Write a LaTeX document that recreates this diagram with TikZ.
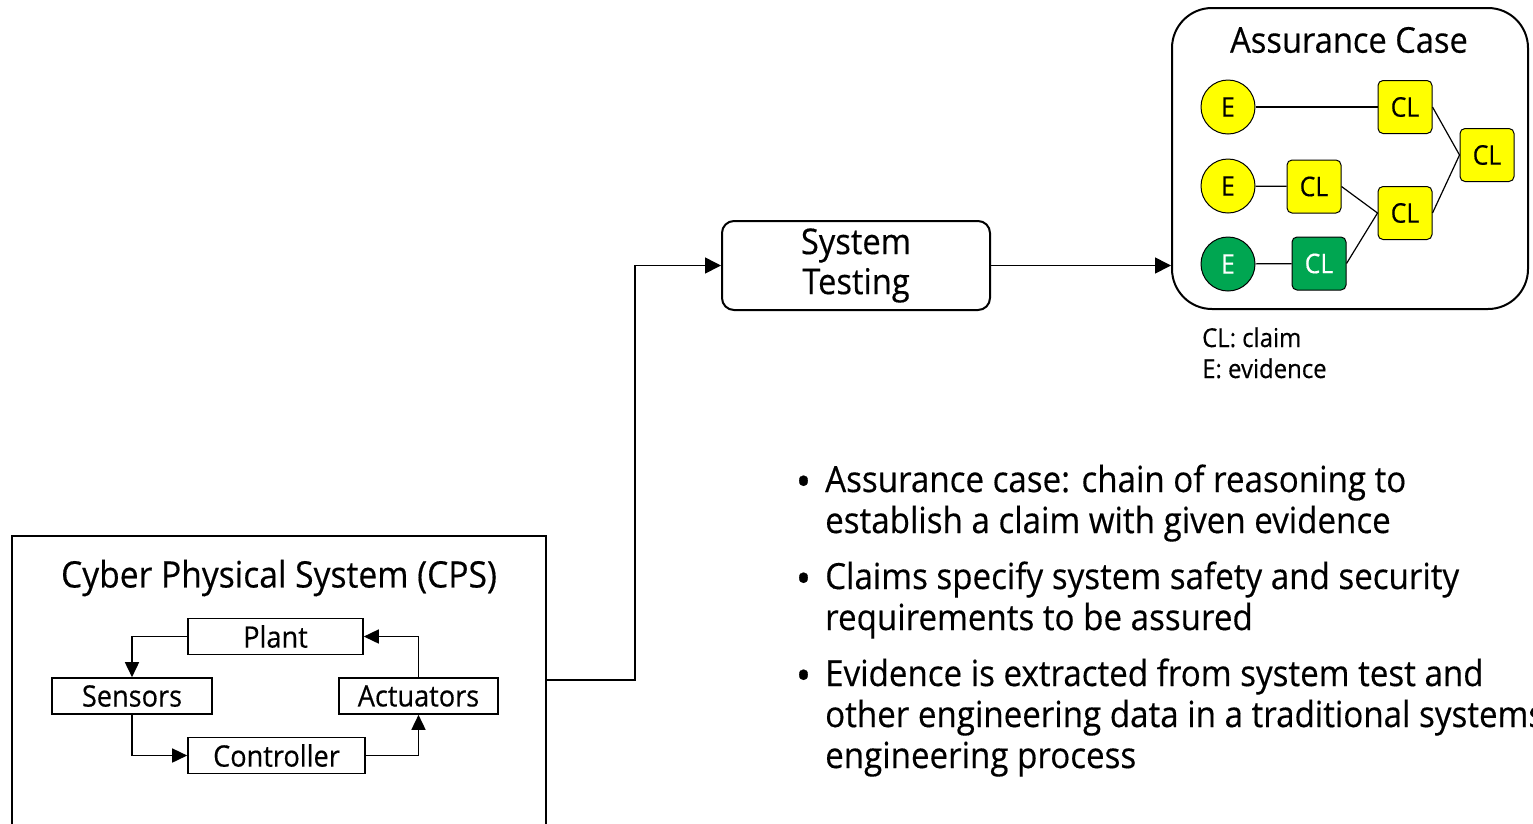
\documentclass[tikz,border=0pt]{standalone}
\usepackage{fontspec}
\setmainfont{Open Sans}[FakeStretch=0.92,FakeBold=0.4]
\usetikzlibrary{arrows.meta}
\definecolor{evgreen}{RGB}{0,166,81}
\definecolor{clyellow}{RGB}{255,255,0}

\begin{document}
\begin{tikzpicture}[x=1pt,y=-1pt,
  tip/.style={-{Triangle[length=15pt,width=14pt]}},
  bigtip/.style={-{Triangle[length=16pt,width=16pt]}},
  conn/.style={line width=1.6pt},
  cpsbox/.style={draw,line width=1.6pt,inner sep=0pt,minimum height=36pt,
    font=\fontsize{29.5}{34}\selectfont},
  evid/.style={draw,circle,line width=1pt,minimum size=54pt,inner sep=0pt,
    fill=clyellow,font=\fontsize{27}{30}\selectfont},
  claim/.style={draw,rectangle,rounded corners=5pt,line width=1pt,
    minimum width=54pt,minimum height=53pt,inner sep=0pt,
    fill=clyellow,font=\fontsize{27}{30}\selectfont},
  done/.style={fill=evgreen,text=white},
  link/.style={line width=1.2pt},
  bullet/.style={anchor=base west,inner sep=0pt,font=\fontsize{36}{40}\selectfont},
  dot/.style={anchor=center,inner sep=0pt,font=\fontsize{36}{40}\selectfont},
  legend/.style={anchor=base west,inner sep=0pt,font=\fontsize{26}{30}\selectfont}]
\useasboundingbox (0,0) rectangle (1533,823);
\clip (0,0) rectangle (1533,823);

% ---------- cyber physical system ----------
\node[draw,line width=1.6pt,minimum width=534pt,minimum height=300pt,inner sep=0pt]
  (cps) at (279,686) {};
\node[font=\fontsize{36.5}{40}\selectfont] (cpstitle) at (279,578) {Cyber Physical System (CPS)};
\node[cpsbox,minimum width=175pt] (plant) at (275.5,636.5) {Plant};
\node[cpsbox,minimum width=160pt] (sens) at (132,696) {Sensors};
\node[cpsbox,minimum width=159pt] (act) at (418.5,696) {Actuators};
\node[cpsbox,minimum width=177pt] (ctrl) at (276.5,755.5) {Controller};

\draw[conn,tip] (plant.west) -| (sens.north);
\draw[conn,tip] (sens.south) |- (ctrl.west);
\draw[conn,tip] (ctrl.east) -| (act.south);
\draw[conn,tip] (act.north) |- (plant.east);

% ---------- system testing ----------
\node[draw,line width=2pt,rounded corners=12pt,minimum width=268pt,minimum height=89pt,
  align=center,inner sep=0pt,font=\fontsize{35.5}{40}\selectfont]
  (st) at (856,265.5) {System\\Testing};

% ---------- assurance case ----------
\node[draw,line width=2pt,rounded corners=40pt,minimum width=356pt,minimum height=301pt,
  inner sep=0pt] (ac) at (1350,158.5) {};
\node[font=\fontsize{35.5}{40}\selectfont] (actitle) at (1349,40) {Assurance Case};

\node[evid] (e1) at (1228,107) {E};
\node[evid] (e2) at (1228,186) {E};
\node[evid,done] (e3) at (1228,264) {E};
\node[claim] (c1) at (1405,107) {CL};
\node[claim] (c2) at (1314,186.5) {CL};
\node[claim,done] (c3) at (1319,263.5) {CL};
\node[claim] (c4) at (1405,213) {CL};
\node[claim] (c5) at (1487,155) {CL};

\draw[link] (e1) -- (c1);
\draw[link] (e2) -- (c2);
\draw[link] (e3) -- (c3);
\draw[link] (c2.east) -- (c4.west);
\draw[link] (c3.east) -- (c4.west);
\draw[link] (c1.east) -- (c5.west);
\draw[link] (c4.east) -- (c5.west);

\node[legend] (lg1) at (1202,347) {CL: claim};
\node[legend] (lg2) at (1202,378) {E: evidence};

% ---------- flow connectors ----------
\draw[conn,bigtip] ([yshift=6pt]cps.east) -- ++(88,0) |- (st.west);
\draw[conn,bigtip] (st.east) -- (st.east -| ac.west);

% ---------- notes ----------
\node[dot] (b1) at (803.5,486) {\scalebox{1.2}{•}};
\node[bullet] (t1) at (825,492) {Assurance case: chain of reasoning to};
\node[bullet] (t2) at (825,533) {establish a claim with given evidence};
\node[dot] (b2) at (803.5,583) {\scalebox{1.2}{•}};
\node[bullet] (t3) at (825,589) {Claims specify system safety and security};
\node[bullet] (t4) at (825,630) {requirements to be assured};
\node[dot] (b3) at (803.5,680) {\scalebox{1.2}{•}};
\node[bullet] (t5) at (825,686) {Evidence is extracted from system test and};
\node[bullet] (t6) at (825,727) {other engineering data in a traditional systems};
\node[bullet] (t7) at (825,768) {engineering process};
\end{tikzpicture}
\end{document}
